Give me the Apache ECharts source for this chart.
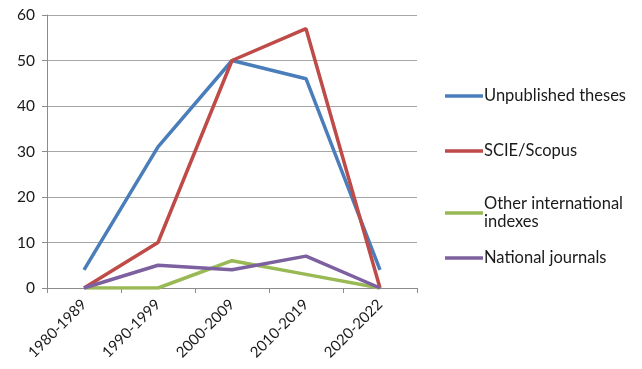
<!DOCTYPE html>
<html>
<head>
<meta charset="utf-8">
<script src="https://cdn.jsdelivr.net/npm/echarts@6/dist/echarts.min.js"></script>
<style>
  html, body { margin: 0; padding: 0; background: #fff; }
  #chart { width: 642px; height: 369px; }
</style>
</head>
<body>
<div id="chart"></div>
<script>
// Publication counts per period, by outlet type
const periods = ['1980-1989', '1990-1999', '2000-2009', '2010-2019', '2020-2022'];
const unpublishedTheses = [4, 31, 50, 46, 4];
const scieScopus = [0, 10, 50, 57, 0];
const otherInternational = [0, 0, 6, 3, 0];
const nationalJournals = [0, 5, 4, 7, 0];
const seriesNames = ['Unpublished theses', 'SCIE/Scopus', 'Other international\nindexes', 'National journals'];
const seriesColors = ['#4a7ebb', '#be4b48', '#98b954', '#7d60a0'];
const seriesData = [unpublishedTheses, scieScopus, otherInternational, nationalJournals];

const font = 'Lato, "Open Sans", sans-serif';
const chart = echarts.init(document.getElementById('chart'));

// one legend block per series so the spacing can follow the wrapped entry
const legendTops = [82, 137, 190, 244];
const legends = seriesNames.map((n, i) => ({
  orient: 'vertical',
  left: 440,
  top: legendTops[i],
  itemWidth: 38,
  itemHeight: 14,
  icon: 'path://M0,6 L38,6 L38,9.5 L0,9.5 Z',
  textStyle: { fontFamily: font, fontSize: 16.5, color: '#1a1a1a', lineHeight: 18, padding: [0, 0, 0, -4] },
  data: [{ name: n, itemStyle: { color: seriesColors[i] } }]
}));

chart.setOption({
  animation: false,
  backgroundColor: '#fff',
  grid: { left: 47, right: 225, top: 15, bottom: 81 },
  legend: legends,
  xAxis: {
    type: 'category',
    data: periods,
    boundaryGap: true,
    axisLine: { lineStyle: { color: '#8c8c8c', width: 1 } },
    axisTick: { show: true, length: 5, lineStyle: { color: '#8c8c8c' } },
    axisLabel: { rotate: 45, fontFamily: font, fontSize: 15, color: '#1a1a1a', margin: 14 },
    splitLine: { show: false }
  },
  yAxis: {
    type: 'value',
    min: 0,
    max: 60,
    interval: 10,
    axisLine: { show: true, lineStyle: { color: '#8c8c8c', width: 1 } },
    axisTick: { show: true, length: 5, lineStyle: { color: '#8c8c8c' } },
    axisLabel: { fontFamily: font, fontSize: 15.5, color: '#1a1a1a', margin: 12 },
    splitLine: { show: true, lineStyle: { color: '#a6a6a6', width: 1 } }
  },
  series: seriesNames.map((n, i) => ({
    name: n,
    type: 'line',
    data: seriesData[i],
    showSymbol: false,
    symbol: 'none',
    lineStyle: { color: seriesColors[i], width: 3.5 },
    itemStyle: { color: seriesColors[i] }
  }))
});
</script>
</body>
</html>
